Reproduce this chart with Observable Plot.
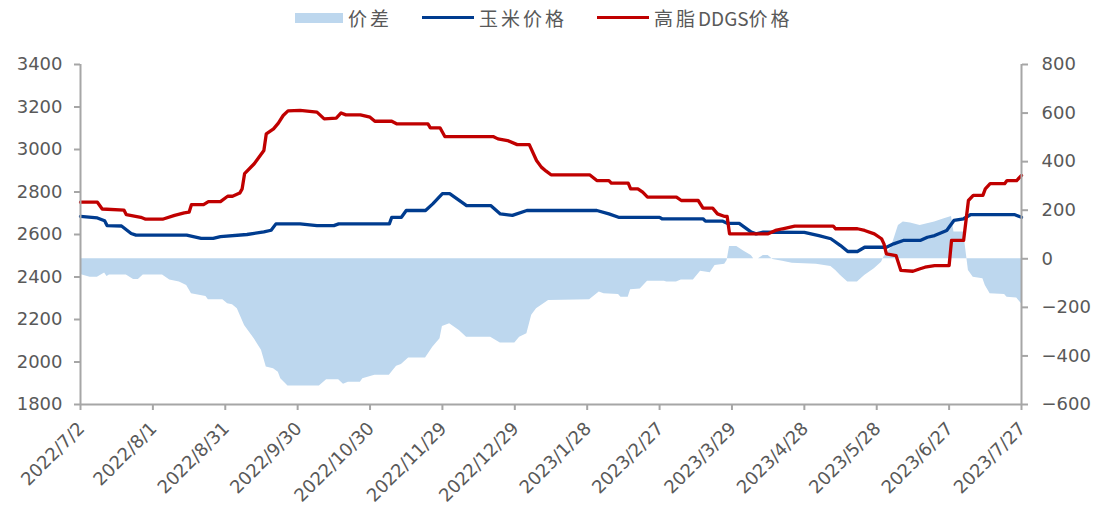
<!DOCTYPE html>
<html>
<head>
<meta charset="utf-8">
<script src="https://cdn.jsdelivr.net/npm/d3@7"></script>
<script src="https://cdn.jsdelivr.net/npm/@observablehq/plot@0.6"></script>
<style>
  html, body { margin: 0; padding: 0; background: #fff; }
  #wrap { position: relative; width: 1094px; height: 515px; }
  #legend { position: absolute; top: 4px; left: 295px; display: flex; align-items: center;
            font-family: "Noto Sans CJK SC", "Noto Sans", sans-serif; font-size: 19px; color: #595959; }
  #legend .item { display: flex; align-items: center; margin-right: 30px; }
  #legend .sw { margin-right: 5px; }
  #legend .cjk { letter-spacing: 3px; }
</style>
</head>
<body>
<div id="wrap">
  <div id="chart"></div>
  <div id="legend"></div>
</div>
<script>
// ---- data (day offsets from START) ----
const START = "2022-07-02";
const END = "2023-07-27";

const cornDays  = [0,7,10,11,17,21,23,44,50,55,58,69,76,79,81,91,98,105,107,128,129,133,135,143,146,150,153,159,160,170,174,179,185,214,219,223,240,241,258,259,266,268,273,278,280,283,300,306,311,315,318,322,325,334,337,341,348,351,354,359,362,366,369,387,390];
const cornPrice = [2685,2678,2665,2642,2640,2605,2597,2597,2582,2582,2590,2600,2612,2620,2650,2650,2642,2642,2650,2650,2681,2681,2713,2713,2744,2792,2792,2744,2736,2736,2697,2690,2713,2713,2697,2681,2681,2674,2674,2663,2663,2653,2652,2611,2603,2611,2610,2595,2580,2548,2520,2520,2540,2540,2556,2572,2572,2587,2595,2619,2666,2674,2694,2694,2681];

const ddgsDays  = [0,7,9,18,19,25,27,34,39,43,45,46,51,53,58,61,63,66,67,68,72,76,77,80,82,84,86,91,98,101,106,108,110,116,120,122,129,131,144,145,149,151,171,173,177,181,186,189,191,193,195,211,214,219,220,227,228,231,233,235,247,249,256,258,262,264,267,268,269,285,288,291,296,312,313,322,325,329,332,333,334,338,340,345,348,350,354,360,361,366,368,370,374,375,377,383,384,388,390];
const ddgsPrice = [2752,2752,2720,2715,2693,2681,2672,2672,2690,2702,2705,2741,2741,2755,2755,2780,2780,2795,2815,2886,2933,2995,3074,3097,3124,3160,3182,3184,3176,3144,3148,3172,3163,3163,3152,3133,3133,3121,3121,3102,3102,3061,3061,3050,3042,3023,3023,2948,2917,2898,2881,2881,2854,2854,2842,2842,2815,2815,2799,2776,2776,2760,2760,2724,2724,2697,2685,2685,2603,2603,2619,2627,2639,2639,2627,2627,2619,2603,2580,2556,2509,2501,2431,2427,2439,2446,2454,2454,2572,2572,2760,2784,2784,2815,2839,2839,2854,2854,2878];

const spreadDays  = [0,4,7,10,11,12,19,20,22,24,26,34,37,41,44,46,52,53,59,61,63,65,68,72,75,77,80,82,83,86,99,102,107,109,111,116,117,122,128,131,133,136,143,146,149,150,153,157,160,170,174,180,182,185,187,189,194,211,215,217,223,224,227,228,232,235,242,243,247,249,254,257,261,263,267,268,269,272,275,278,279,281,283,285,287,291,295,305,311,313,315,318,322,325,329,332,333,336,339,341,344,348,351,354,358,361,362,366,368,370,374,375,377,383,384,388,390];
const spreadValue = [-65,-76,-76,-59,-73,-67,-67,-73,-85,-85,-67,-67,-87,-96,-110,-144,-155,-169,-169,-185,-189,-206,-275,-329,-377,-446,-453,-467,-494,-524,-524,-498,-498,-517,-508,-508,-494,-480,-480,-443,-435,-409,-409,-364,-329,-279,-268,-295,-323,-323,-347,-347,-323,-309,-233,-206,-172,-169,-137,-144,-147,-158,-158,-128,-124,-92,-92,-96,-96,-87,-87,-51,-58,-28,-23,-7,51,51,31,14,0,0,14,14,-3,-10,-18,-23,-32,-48,-69,-96,-96,-69,-41,-14,7,45,137,151,147,137,144,151,165,174,110,110,-48,-76,-82,-110,-144,-147,-158,-161,-185];

const xTickLabels = ["2022/7/2","2022/8/1","2022/8/31","2022/9/30","2022/10/30","2022/11/29","2022/12/29","2023/1/28","2023/2/27","2023/3/29","2023/4/28","2023/5/28","2023/6/27","2023/7/27"];
const leftTicks  = [1800,2000,2200,2400,2600,2800,3000,3200,3400];
const rightTicks = [-600,-400,-200,0,200,400,600,800];
const seriesNames = ["价差","玉米价格","高脂DDGS价格"];
const seriesColors = ["#BDD7EE","#003C8F","#C00000"];

// ---- build ----
const start = new Date(START + "T00:00:00Z");
const end = new Date(END + "T00:00:00Z");
const dayToDate = d => d3.utcDay.offset(start, d);
const parseLabel = s => { const [y,m,d] = s.split("/").map(Number); return new Date(Date.UTC(y, m-1, d)); };

const corn = cornDays.map((d,i) => ({date: dayToDate(d), v: cornPrice[i]}));
const ddgs = ddgsDays.map((d,i) => ({date: dayToDate(d), v: ddgsPrice[i]}));
const spread = spreadDays.map((d,i) => ({date: dayToDate(d), v: spreadValue[i]}));

// right axis (-600..800) mapped onto left axis (1800..3400)
const toLeft = v => 1800 + (v + 600) * 1600 / 1400;
const fromLeft = y => (y - 1800) * 1400 / 1600 - 600;
const fmt = d3.format("d");
const xTickDates = xTickLabels.map(parseLabel);

const axisGray = "#A6A6A6";
const textGray = "#595959";

const chart = Plot.plot({
  width: 1094,
  height: 515,
  marginLeft: 80,
  marginRight: 73,
  marginTop: 64,
  marginBottom: 111,
  x: {type: "utc", domain: [start, end], axis: null},
  y: {domain: [1800, 3400], axis: null},
  style: {fontFamily: "DejaVu Sans, sans-serif", fontSize: "18px", color: textGray, background: "#fff"},
  marks: [
    Plot.areaY(spread, {x: "date", y1: () => toLeft(0), y2: d => toLeft(d.v), fill: seriesColors[0], curve: "linear"}),
    Plot.line(corn, {x: "date", y: "v", stroke: seriesColors[1], strokeWidth: 3.3, curve: "linear"}),
    Plot.line(ddgs, {x: "date", y: "v", stroke: seriesColors[2], strokeWidth: 3.3, curve: "linear"}),
    Plot.ruleX([start, end], {stroke: axisGray, strokeWidth: 2}),
    Plot.ruleY([1800], {stroke: axisGray, strokeWidth: 2}),
    Plot.axisY(leftTicks, {anchor: "left", label: null, tickSize: 6, tickPadding: 12, stroke: axisGray, fill: textGray, strokeWidth: 2,
      tickFormat: fmt}),
    Plot.axisY(rightTicks.map(toLeft), {anchor: "right", label: null, tickSize: 6, tickPadding: 14, stroke: axisGray, fill: textGray, strokeWidth: 2,
      tickFormat: y => fmt(Math.round(fromLeft(y)))}),
    // x tick marks
    Plot.axisX(xTickDates, {anchor: "bottom", label: null, tickSize: 6, stroke: axisGray, strokeWidth: 2, tickFormat: () => ""}),
    // x tick labels
    Plot.axisX(xTickDates, {anchor: "bottom", label: null, tickSize: 0, tickPadding: 21, tickRotate: -45, fill: textGray, dx: 1,
      fontSize: 18, tickFormat: d => `${d.getUTCFullYear()}/${d.getUTCMonth()+1}/${d.getUTCDate()}`})
  ]
});
document.getElementById("chart").appendChild(chart);

// legend
const legend = document.getElementById("legend");
seriesNames.forEach((name, i) => {
  const item = document.createElement("div");
  item.className = "item";
  const sw = document.createElement("span");
  sw.className = "sw";
  sw.style.display = "inline-block";
  sw.style.width = i === 0 ? "48px" : "52px";
  sw.style.height = i === 0 ? "10px" : "3.5px";
  sw.style.background = seriesColors[i];
  item.appendChild(sw);
  // CJK runs spaced, Latin runs unspaced
  name.match(/[A-Za-z0-9]+|[^A-Za-z0-9]+/g).forEach(part => {
    const tx = document.createElement("span");
    tx.textContent = part;
    if (!/^[A-Za-z0-9]+$/.test(part)) tx.className = "cjk";
    item.appendChild(tx);
  });
  legend.appendChild(item);
});
</script>
</body>
</html>
